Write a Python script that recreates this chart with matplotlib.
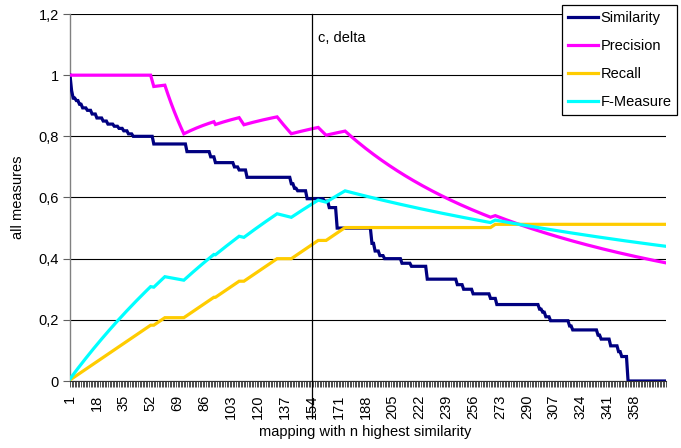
import numpy as np
import matplotlib
matplotlib.use("Agg")
import matplotlib.pyplot as plt
import matplotlib.transforms as mtransforms
from matplotlib.ticker import FixedLocator, FuncFormatter

plt.rcParams['font.family'] = ['Liberation Sans', 'DejaVu Sans']

# Ranked mappings (ordered by decreasing similarity)
n_mappings = 378
relevant_total = 285
delta_rank = 154

# Labelled ranks on the category axis
x_tick_labels = [1, 18, 35, 52, 69, 86, 103, 120, 137, 154, 171, 188, 205,
                 222, 239, 256, 273, 290, 307, 324, 341, 358]

# Similarity of the n-th mapping, run-length encoded as (value, run length)
similarity_runs = [
    (1.0, 1), (0.95, 1), (0.925, 2), (0.917, 2), (0.905, 2), (0.893, 3),
    (0.885, 3), (0.873, 3), (0.86, 4), (0.85, 3), (0.84, 4), (0.833, 3),
    (0.826, 3), (0.818, 3), (0.808, 3), (0.80, 13), (0.775, 21), (0.75, 15),
    (0.733, 3), (0.714, 12), (0.70, 3), (0.69, 5), (0.666, 28), (0.645, 2),
    (0.63, 2), (0.622, 6), (0.596, 11), (0.588, 3), (0.567, 5), (0.50, 22),
    (0.45, 2), (0.425, 3), (0.41, 3), (0.40, 11), (0.385, 6), (0.375, 10),
    (0.333, 19), (0.315, 4), (0.30, 6), (0.285, 11), (0.27, 4), (0.25, 27),
    (0.235, 2), (0.225, 2), (0.21, 3), (0.197, 12), (0.18, 2), (0.167, 16),
    (0.15, 2), (0.137, 6), (0.115, 5), (0.096, 2), (0.08, 4), (0.0, 25),
]

# Correctness of the ranked mappings as runs of (is_correct, run length)
correct_runs = [
    (1, 52), (0, 2), (1, 7), (0, 12), (1, 19), (0, 1), (1, 15), (0, 3),
    (1, 21), (0, 9), (1, 17), (0, 5), (1, 12), (0, 92), (1, 3), (0, 108),
]

series_names = ["Similarity", "Precision", "Recall", "F-Measure"]
series_colors = ["#000080", "#FF00FF", "#FFCC00", "#00FFFF"]

# ---- derived measures -------------------------------------------------
ranks = np.arange(1, n_mappings + 1)
sim_vals, sim_counts = zip(*similarity_runs)
similarity = np.repeat(sim_vals, sim_counts)
flags, flag_counts = zip(*correct_runs)
correct = np.cumsum(np.repeat(flags, flag_counts))
precision = correct / ranks
recall = correct / relevant_total
fmeasure = 2 * precision * recall / (precision + recall)

W, H = 681, 448
fig = plt.figure(figsize=(W / 100, H / 100), dpi=100)
ax = fig.add_axes([70 / W, 1 - 381 / H, (666 - 70) / W, (381 - 14) / H])

lines = []
for i, (vals, name, col) in enumerate(zip([similarity, precision, recall, fmeasure],
                                          series_names, series_colors)):
    ln, = ax.plot(ranks, vals, color=col, lw=2.3, label=name, zorder=3 + i,
                  solid_joinstyle='miter')
    lines.append(ln)

ax.set_xlim(1, n_mappings)
ax.set_ylim(0, 1.2)

# y axis: comma decimal separator
yt = np.round(np.arange(0, 1.21, 0.2), 1)
ax.yaxis.set_major_locator(FixedLocator(yt))
ax.yaxis.set_major_formatter(FuncFormatter(lambda v, p: ('%g' % round(v, 1)).replace('.', ',')))
ax.yaxis.grid(True, color='black', lw=0.8)
ax.set_axisbelow(True)

# x axis: a tick at every rank, labels every 17 ranks
ax.xaxis.set_major_locator(FixedLocator(x_tick_labels))
ax.xaxis.set_minor_locator(FixedLocator(ranks))
ax.xaxis.set_major_formatter(FuncFormatter(lambda v, p: '%d' % v))
ax.tick_params(axis='x', which='both', direction='out', length=4, width=0.6,
               color='#303030', pad=6, labelsize=10.5, labelrotation=90)
ax.tick_params(axis='y', direction='out', length=5, width=0.8, color='#606060',
               pad=3, labelsize=10.5)

for s in ('top', 'right'):
    ax.spines[s].set_visible(False)
ax.spines['left'].set_color('#808080')
ax.spines['left'].set_linewidth(1.0)
ax.spines['bottom'].set_color('#303030')
ax.spines['bottom'].set_linewidth(0.8)

# marker line for the chosen cut-off
trans = mtransforms.blended_transform_factory(ax.transData, ax.transAxes)
ax.plot([delta_rank, delta_rank], [-0.1, 1.0], transform=trans, color='black',
        lw=0.9, clip_on=False, zorder=10)
ax.annotate("c, delta", xy=(delta_rank, 1.0), xycoords=trans,
            xytext=(6, -24), textcoords='offset pixels', ha='left', va='center',
            fontsize=10.5)

fig.text(18 / W, 1 - 197 / H, "all measures", rotation=90, ha='center',
         va='center', fontsize=10.5)
fig.text(365 / W, 1 - 432 / H, "mapping with n highest similarity", ha='center',
         va='center', fontsize=10.5)

leg = fig.legend(handles=lines, loc='upper left', bbox_to_anchor=(562 / W, 1 - 5 / H),
                 bbox_transform=fig.transFigure, frameon=True, fancybox=False,
                 framealpha=1, edgecolor='black', fontsize=10.5, handlelength=2.1,
                 handletextpad=0.15, labelspacing=0.97, borderpad=0.4,
                 borderaxespad=0)
leg.get_frame().set_linewidth(0.9)

fig.savefig("out.png", dpi=100)
